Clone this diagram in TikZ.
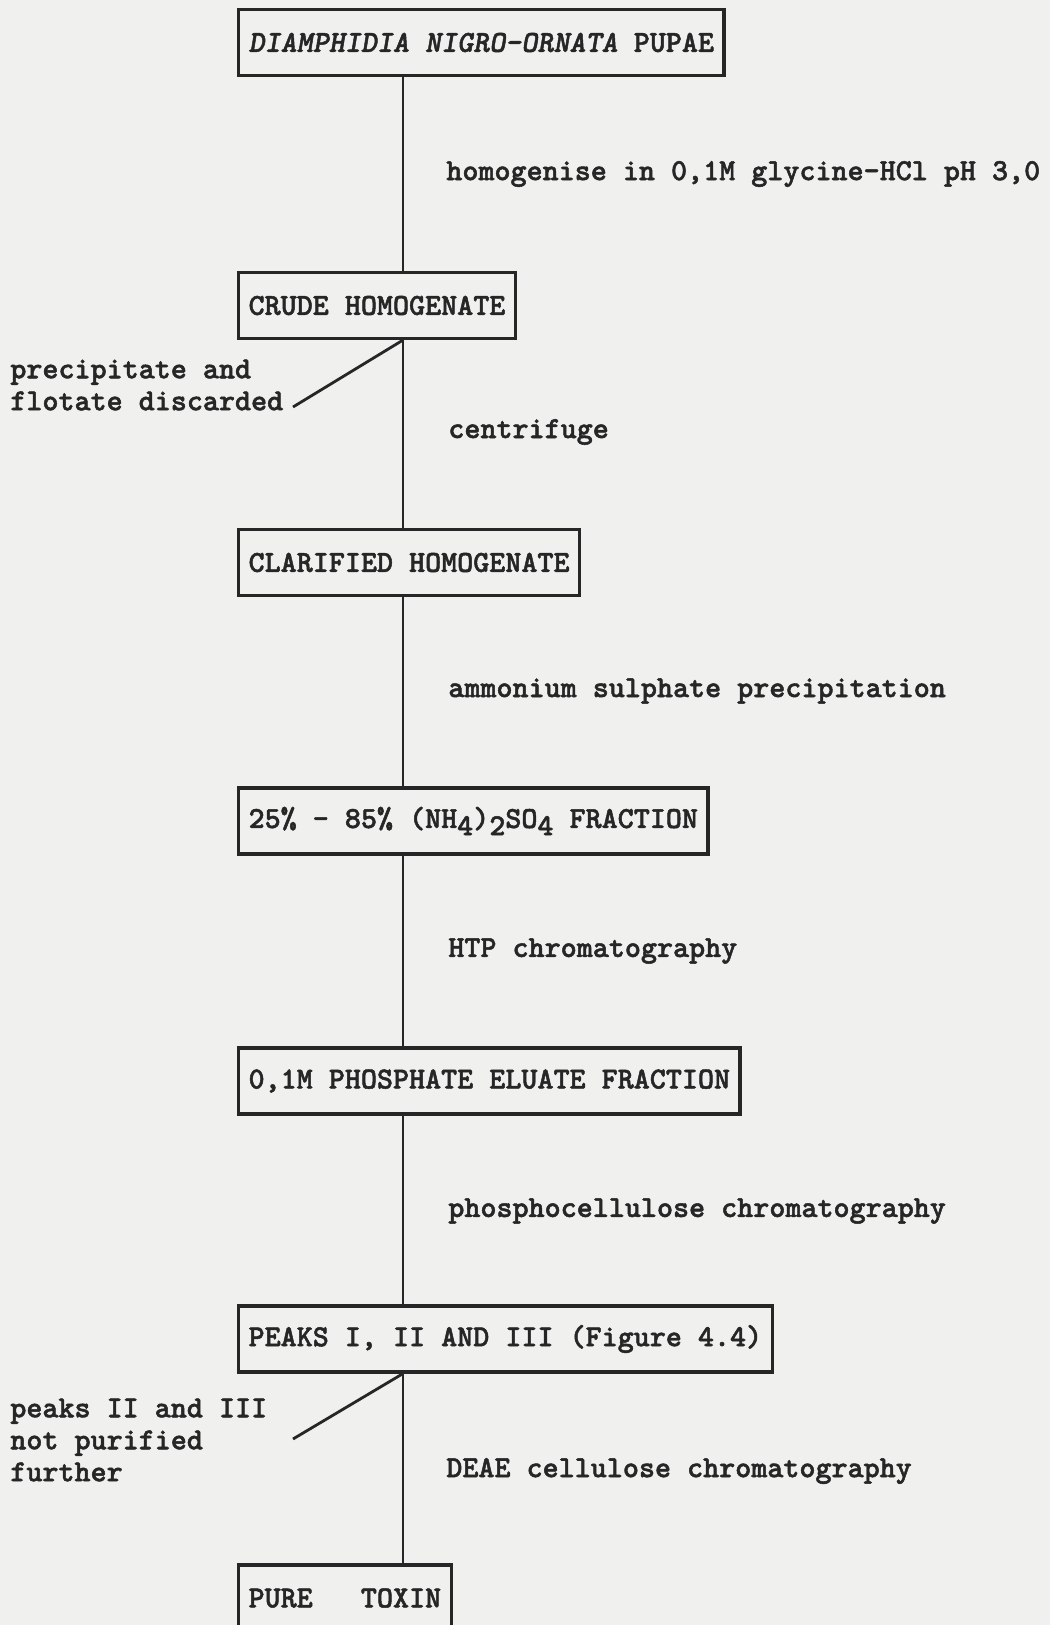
\documentclass[tikz,border=0pt]{standalone}
\usepackage{fontspec}
\usetikzlibrary{positioning}
\newfontfamily\typewriterfont{lmmonolt10-bold}[Extension=.otf, ItalicFont=lmmonolt10-boldoblique, FakeBold=1.6]
\definecolor{paper}{RGB}{240,240,238}
\definecolor{ink}{RGB}{38,38,38}
\newcommand{\flowfont}{\fontsize{17.4}{18.2}\selectfont\typewriterfont}
\newcommand{\lowered}[1]{\raisebox{-0.55ex}{#1}}

\begin{document}
\begin{tikzpicture}[
    x=0.02cm, y=-0.02cm,
    stage/.style={
        draw=ink,
        line width=1.8pt,
        anchor=west,
        inner xsep=0.2cm,
        inner ysep=0pt,
        minimum height=1.32cm,
        text=ink,
        font=\flowfont
    },
    treatment/.style={anchor=west, inner sep=0pt, text=ink, font=\flowfont},
    waste/.style={anchor=west, inner sep=0pt, align=left, text=ink, font=\flowfont},
    link/.style={draw=ink, line width=1.6pt}
]
    % Paper
    \fill[paper] (0, 0) rectangle (1050, 1625);
    \useasboundingbox (0, 0) rectangle (1050, 1625);
    \clip (0, 0) rectangle (1050, 1625);
    \coordinate (axis) at (403, 0);

    % Stages
    \node[stage] (pupae) at (237, 42.5) {\textit{DIAMPHIDIA NIGRO-ORNATA} PUPAE};
    \node[stage] (crude) at (237, 305.5) {CRUDE HOMOGENATE};
    \node[stage] (clarified) at (237, 562.5) {CLARIFIED HOMOGENATE};
    \node[stage] (fraction) at (237, 821) {25\% - 85\% (NH\lowered{4})\lowered{2}SO\lowered{4} FRACTION};
    \node[stage] (eluate) at (237, 1081) {0,1M PHOSPHATE ELUATE FRACTION};
    \node[stage] (peaks) at (237, 1339) {PEAKS I, II AND III (Figure 4.4)};
    \node[stage] (toxin) at (237, 1598) {PURE\ \ \ TOXIN};

    % Treatments
    \node[treatment] (homogenise) at (446, 174) {homogenise in 0,1M glycine-HCl pH 3,0};
    \node[treatment] (centrifuge) at (448, 432) {centrifuge};
    \node[treatment] (salting) at (448, 691) {ammonium sulphate precipitation};
    \node[treatment] (htp) at (448, 951) {HTP chromatography};
    \node[treatment] (phospho) at (448, 1211) {phosphocellulose chromatography};
    \node[treatment] (deae) at (446, 1471) {DEAE cellulose chromatography};

    % Main line
    \draw[link] (axis |- pupae.south) -- (axis |- crude.north);
    \draw[link] (axis |- crude.south) -- (axis |- clarified.north);
    \draw[link] (axis |- clarified.south) -- (axis |- fraction.north);
    \draw[link] (axis |- fraction.south) -- (axis |- eluate.north);
    \draw[link] (axis |- eluate.south) -- (axis |- peaks.north);
    \draw[link] (axis |- peaks.south) -- (axis |- toxin.north);

    % Discarded material
    \node[waste] (discard) at (10, 385) {precipitate and\\flotate discarded};
    \node[waste] (unused) at (10, 1440) {peaks II and III\\not purified\\further};
    \coordinate (discardend) at (293, 407);
    \coordinate (unusedend) at (293, 1439);
    \draw[link] (axis |- crude.south) -- (discardend);
    \draw[link] (axis |- peaks.south) -- (unusedend);
\end{tikzpicture}
\end{document}
